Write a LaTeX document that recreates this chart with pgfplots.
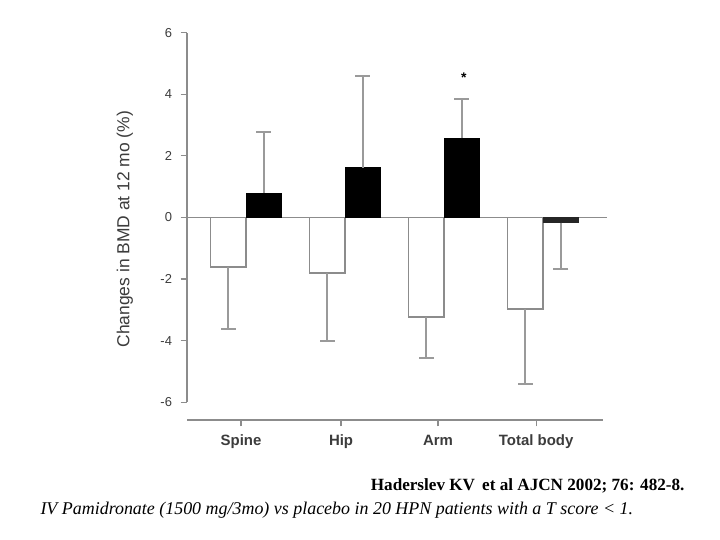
\documentclass[border=0pt]{standalone}
\usepackage{fontspec}
\setmainfont{Liberation Sans}
\newfontfamily\capfont{Liberation Serif}
\usepackage{pgfplots}
\pgfplotsset{compat=1.18}
\definecolor{axgray}{HTML}{8C8C8C}
\definecolor{errgray}{HTML}{9A9A9A}
\definecolor{txtgray}{HTML}{3C3C3C}

\begin{document}
\begin{tikzpicture}
\path[fill=white] (0,0) rectangle (720bp,540bp);
\begin{axis}[
    at={(187bp,120bp)}, anchor=south west,
    scale only axis, width=420bp, height=393.5bp,
    xmin=-0.596, xmax=3.646, ymin=-6.575, ymax=6.2,
    axis x line=bottom, axis y line=left,
    x axis line style={-, draw=axgray, line width=1.4bp, shorten >=4bp},
    y axis line style={-, draw=axgray, line width=1.4bp, shorten <=17.7bp, shorten >=6.2bp},
    tick align=outside, major tick length=6.5bp,
    tick style={draw=axgray, line width=1.2bp},
    ytick={-6,-4,...,6},
    xtick={-0.05,0.96,1.94,2.93},
    xticklabels={Spine,Hip,Arm,Total body},
    /pgf/number format/assume math mode=true,
    yticklabel style={font=\fontsize{13}{13}\selectfont, text=txtgray, xshift=-5bp},
    xticklabel style={font=\bfseries\fontsize{15}{15}\selectfont, text=txtgray, yshift=-5bp},
    ylabel={Changes in BMD at 12 mo (\%)},
    ylabel style={at={(axis description cs:-0.148,0.485)}, anchor=center,
                  font=\fontsize{17.5}{17.5}\selectfont, text=txtgray},
    error bars/error bar style={draw=errgray, line width=1.6bp},
    error bars/error mark options={rotate=90, draw=errgray, line width=1.6bp, mark size=7.5bp},
]
% zero line
\draw[axgray, line width=1.4bp] (axis cs:-0.596,0) -- (axis cs:3.646,0);

% placebo (open bars), error below
\addplot[ybar, bar width=0.36, bar shift=0, fill=white, draw=axgray, line width=1.6bp,
    error bars/.cd, y dir=minus, y explicit]
    coordinates {
        (-0.18,-1.60) -= (0,2.03)
        (0.82,-1.80)  -= (0,2.21)
        (1.82,-3.23)  -= (0,1.33)
        (2.82,-2.97)  -= (0,2.44)
    };

% pamidronate (filled bars), error above
\addplot[ybar, bar width=0.36, bar shift=0, fill=black, draw=black, line width=0.8bp,
    error bars/.cd, y dir=plus, y explicit]
    coordinates {
        (0.18,0.79) += (0,1.98)
        (1.18,1.61) += (0,2.98)
        (2.18,2.57) += (0,1.27)
    };
\addplot[ybar, bar width=0.36, bar shift=0, fill=black!85, draw=black!85, line width=0.8bp,
    error bars/.cd, y dir=minus, y explicit]
    coordinates {
        (3.18,-0.17) -= (0,1.50)
    };

\node[font=\bfseries\fontsize{14}{14}\selectfont] at (axis cs:2.20,4.55) {*};
\end{axis}
\node[anchor=base east, font=\capfont\bfseries\fontsize{17.2}{17.2}\selectfont]
    at (688bp,49bp) {Haderslev KV\, et al AJCN 2002; 76: 482-8.};
\node[anchor=base west, font=\capfont\itshape\fontsize{18}{18}\selectfont]
    at (37bp,26bp) {IV Pamidronate (1500 mg/3mo) vs placebo in 20 HPN patients with a T score < 1.};
\end{tikzpicture}
\end{document}
